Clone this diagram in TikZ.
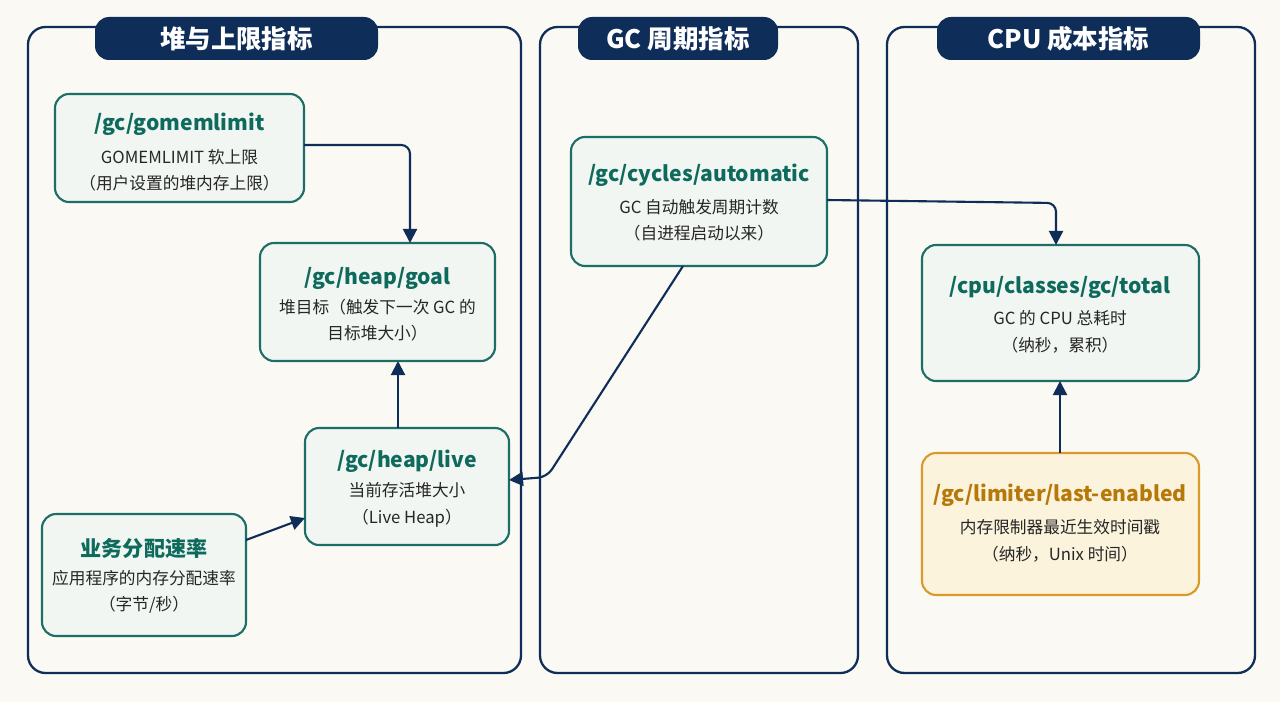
\documentclass[tikz,border=0pt]{standalone}
\usepackage{fontspec}
\setmainfont{Noto Sans CJK SC}
\usepackage{xcolor}
\usepackage{tikz}
\usetikzlibrary{arrows, arrows.meta}
\definecolor{bgc}{HTML}{FBF9F3}
\definecolor{navy}{HTML}{0F2D59}
\definecolor{teal}{HTML}{1E6E68}
\definecolor{tealtxt}{HTML}{0E6A5C}
\definecolor{boxfill}{HTML}{F1F6F2}
\definecolor{orng}{HTML}{D99A2B}
\definecolor{orngfill}{HTML}{FCF3DC}
\definecolor{orngtxt}{HTML}{B7780A}
\tikzset{
  panel/.style={draw=navy, line width=1.3pt, rounded corners=10pt},
  ptitle/.style={fill=navy, rounded corners=8pt, text=white, font=\bfseries\fontsize{14.5}{18}\selectfont, inner sep=0pt},
  metric/.style={draw=teal, fill=boxfill, line width=1.2pt, rounded corners=8pt},
  mname/.style={text=tealtxt, font=\bfseries\fontsize{12}{15}\selectfont},
  mdesc/.style={font=\fontsize{9.5}{15}\selectfont, align=center, text=black!85},
  link/.style={navy, line width=1.2pt, -{Triangle[length=8pt,width=8pt]}, rounded corners=5pt}
}
\begin{document}
\begin{tikzpicture}[x=0.02cm, y=-0.02cm]
\fill[bgc] (0,0) rectangle (1280,702);
% panels
\draw[panel] (28,27) rectangle (521,673);
\draw[panel] (540,27) rectangle (858,673);
\draw[panel] (887,27) rectangle (1255,673);
\node[ptitle, minimum width=283*0.02cm, minimum height=43*0.02cm] (t1) at (236.5,38.5) {堆与上限指标};
\node[ptitle, minimum width=200*0.02cm, minimum height=43*0.02cm] (t2) at (678,38.5) {GC 周期指标};
\node[ptitle, minimum width=263*0.02cm, minimum height=43*0.02cm] (t3) at (1068.5,38.5) {CPU 成本指标};
% metric boxes
\draw[metric] (55,94) rectangle (304,202);
\node[mname] (memlimit) at (179.5,124) {/gc/gomemlimit};
\node[mdesc] (memlimitd) at (179.5,170) {GOMEMLIMIT 软上限\\（用户设置的堆内存上限）};
\draw[metric] (260,243) rectangle (495,361);
\node[mname] (goal) at (377.5,278) {/gc/heap/goal};
\node[mdesc] (goald) at (377.5,320) {堆目标（触发下一次 GC 的\\目标堆大小）};
\draw[metric] (305,428) rectangle (509,545);
\node[mname] (live) at (407,461) {/gc/heap/live};
\node[mdesc] (lived) at (407,505) {当前存活堆大小\\（Live Heap）};
\draw[metric] (42,514) rectangle (246,636);
\node[mname] (rate) at (144,548) {业务分配速率};
\node[mdesc] (rated) at (144,592) {应用程序的内存分配速率\\（字节/秒）};
\draw[metric] (571,137) rectangle (827,266);
\node[mname] (auto) at (699,175) {/gc/cycles/automatic};
\node[mdesc] (autod) at (699,220) {GC 自动触发周期计数\\（自进程启动以来）};
\draw[metric] (922,245) rectangle (1199,381);
\node[mname] (total) at (1060,287) {/cpu/classes/gc/total};
\node[mdesc] (totald) at (1060,332) {GC 的 CPU 总耗时\\（纳秒，累积）};
\draw[metric, draw=orng, fill=orngfill] (922,453) rectangle (1199,595);
\node[mname, text=orngtxt] (limiter) at (1060,495) {/gc/limiter/last-enabled};
\node[mdesc] (limiterd) at (1060,541) {内存限制器最近生效时间戳\\（纳秒，Unix 时间）};
% connectors
\coordinate (memlimitR) at (304,145);
\coordinate (goalT) at (410,243);
\draw[link] (memlimitR) -| (goalT);
\coordinate (liveT) at (398,428);
\coordinate (goalB) at (398,361);
\draw[link] (liveT) -- (goalB);
\coordinate (rateR) at (246,540);
\coordinate (liveL) at (305,518);
\draw[link] (rateR) -- (liveL);
\coordinate (autoB) at (683,266);
\coordinate (liveR) at (509,480);
\draw[link] (autoB) -- (547,477) -- (liveR);
\coordinate (autoR) at (827,200);
\coordinate (totalT) at (1056,245);
\draw[link] (autoR) -- (1056,203) -- (totalT);
\coordinate (limiterT) at (1060,453);
\coordinate (totalB) at (1060,381);
\draw[link] (limiterT) -- (totalB);
\end{tikzpicture}
\end{document}
